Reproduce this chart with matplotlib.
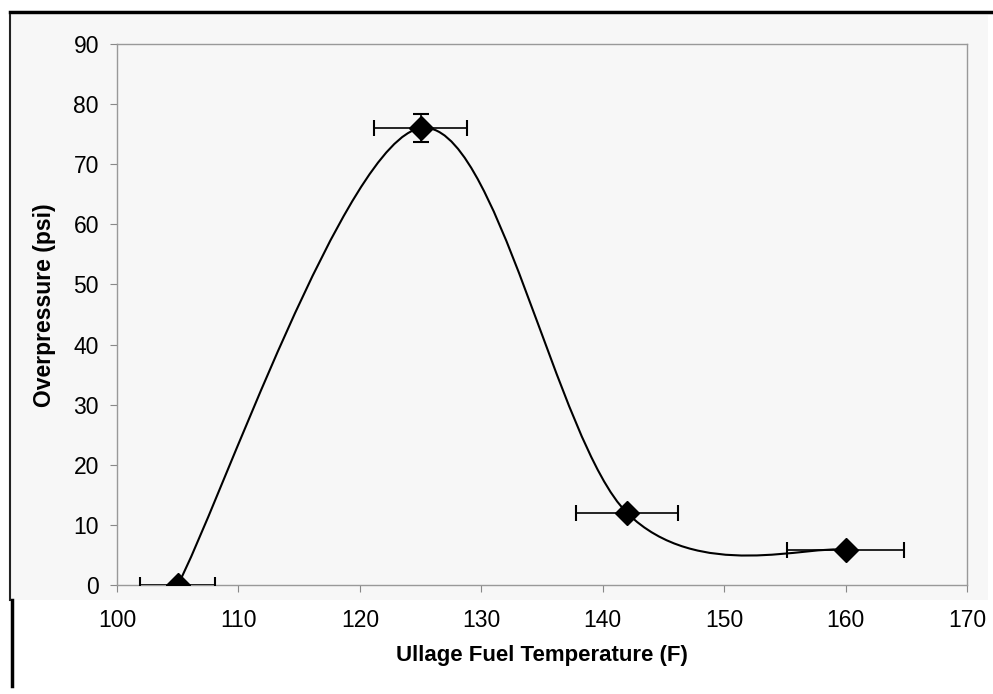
import matplotlib
matplotlib.use('Agg')
import matplotlib.pyplot as plt
from matplotlib.path import Path
from matplotlib.patches import PathPatch, Rectangle
import numpy as np

# data
temp_f = [105, 125, 142, 160]
overpressure_psi = [0, 76, 12, 5.8]
temp_err = [3.1, 3.8, 4.2, 4.8]
pressure_err = [0, 2.3, 0, 0]

x_ticks = [100, 110, 120, 130, 140, 150, 160, 170]
y_ticks = [0, 10, 20, 30, 40, 50, 60, 70, 80, 90]


def smooth_path(xs, ys):
    # Excel-style smoothed line: cubic bezier with 1/6 tangents
    pts = np.column_stack([xs, ys]).astype(float)
    n = len(pts)
    verts = [pts[0]]
    codes = [Path.MOVETO]
    for i in range(n - 1):
        p_prev = pts[i - 1] if i > 0 else pts[i]
        p_next2 = pts[i + 2] if i + 2 < n else pts[i + 1]
        c1 = pts[i] + (pts[i + 1] - p_prev) / 6.0
        c2 = pts[i + 1] - (p_next2 - pts[i]) / 6.0
        verts += [c1, c2, pts[i + 1]]
        codes += [Path.CURVE4] * 3
    return Path(verts, codes)


plt.rcParams['font.family'] = ['Liberation Sans', 'DejaVu Sans']

fig = plt.figure(figsize=(9.93, 6.94), dpi=100)
fig.patch.set_facecolor('white')

# scanned page background and frame lines
W, H = 993, 694
fig.add_artist(Rectangle((10 / W, 1 - 600 / H), 978 / W, 585 / H,
                         transform=fig.transFigure, facecolor='#f7f7f7',
                         edgecolor='none', zorder=0))
fig.add_artist(plt.Line2D([10 / W, 1], [1 - 12 / H, 1 - 12 / H],
                          transform=fig.transFigure, color='black', lw=2.5))
fig.add_artist(plt.Line2D([10 / W, 10 / W], [1 - 15 / H, 1 - 600 / H],
                          transform=fig.transFigure, color='#222222', lw=1.5))
fig.add_artist(plt.Line2D([12 / W, 12 / W], [1 - 600 / H, 1 - 686 / H],
                          transform=fig.transFigure, color='black', lw=2.5))

ax = fig.add_axes([117 / W, 1 - 585 / H, 850 / W, 541 / H])
ax.set_facecolor('#f7f7f7')

ax.add_patch(PathPatch(smooth_path(temp_f, overpressure_psi), facecolor='none',
                       edgecolor='black', lw=1.5, zorder=3))
ax.errorbar(temp_f, overpressure_psi, xerr=temp_err, yerr=pressure_err,
            fmt='D', color='black', markersize=12, ecolor='black',
            elinewidth=1.2, capsize=6, capthick=1.5, zorder=4)

ax.set_xlim(100, 170)
ax.set_ylim(0, 90)
ax.set_xticks(x_ticks)
ax.set_yticks(y_ticks)
ax.tick_params(axis='both', direction='out', length=5, color='#888888',
               labelsize=16.5, pad=8)
ax.tick_params(axis='x', pad=12)
for s in ax.spines.values():
    s.set_color('#999999')
    s.set_linewidth(1.0)

ax.set_xlabel('Ullage Fuel Temperature (F)', fontsize=16, fontweight='bold')
ax.set_ylabel('Overpressure (psi)', fontsize=16.5, fontweight='bold')
ax.xaxis.set_label_coords(0.5, -0.111)
ax.yaxis.set_label_coords(-0.072, 0.518)

fig.savefig('out.png', dpi=100)
